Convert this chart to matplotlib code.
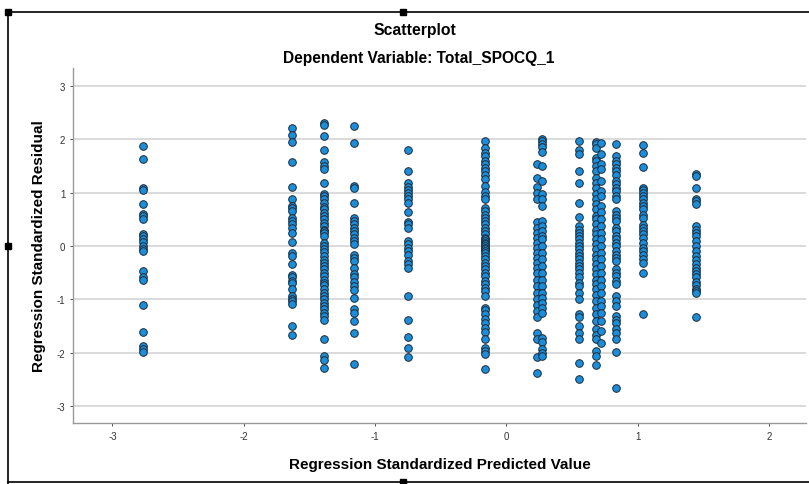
import matplotlib
matplotlib.use("Agg")
import matplotlib.pyplot as plt
from matplotlib.lines import Line2D
from matplotlib.patches import Rectangle

plt.rcParams['font.family'] = ['Liberation Sans', 'DejaVu Sans']

# predicted value (x) of each vertical stripe and the residuals
col_x = [-2.77, -1.63, -1.39, -1.16, -0.75, -0.16, 0.23, 0.27, 0.55, 0.68, 0.72, 0.83, 1.04, 1.44]

col_res = [
    [1.88, 1.63, 1.08, 1.06, 0.79, 0.61, 0.56, 0.51, 0.23, 0.19, 0.13, 0.08, 0.0, -0.05, -0.1,
     -0.47, -0.59, -0.64, -1.1, -1.61, -1.88, -1.94, -1.99],
    [2.22, 2.08, 1.96, 1.58, 1.10, 0.89, 0.76, 0.72, 0.66, 0.53, 0.47, 0.41, 0.34, 0.25, 0.08,
     -0.14, -0.18, -0.34, -0.55, -0.59, -0.66, -0.70, -0.80, -0.94, -0.99, -1.03, -1.08, -1.50, -1.67],
    [2.30, 2.28, 2.06, 1.81, 1.58, 1.50, 1.45, 1.18, 0.98, 0.94, 0.88, 0.81, 0.74, 0.69, 0.62,
     0.56, 0.51, 0.44, 0.37, 0.31, 0.28, 0.25, 0.19, 0.06, 0.0, -0.06, -0.12, -0.19, -0.26, -0.31,
     -0.38, -0.43, -0.5, -0.57, -0.63, -0.69, -0.74, -0.81, -0.88, -0.94, -1.0, -1.06, -1.12,
     -1.19, -1.25, -1.31, -1.38, -1.75, -2.06, -2.13, -2.28],
    [2.26, 1.94, 1.13, 1.09, 0.81, 0.53, 0.47, 0.41, 0.34, 0.28, 0.22, 0.16, 0.09, 0.04, -0.16,
     -0.22, -0.28, -0.41, -0.53, -0.59, -0.68, -0.75, -0.83, -0.98, -1.19, -1.25, -1.41, -1.64, -2.22],
    [1.80, 1.41, 1.18, 1.11, 1.05, 0.99, 0.94, 0.88, 0.80, 0.63, 0.45, 0.41, 0.34, 0.09, 0.03,
     -0.03, -0.09, -0.16, -0.28, -0.34, -0.41, -0.93, -1.39, -1.71, -1.91, -2.08],
    [1.97, 1.84, 1.75, 1.69, 1.59, 1.53, 1.47, 1.41, 1.34, 1.25, 1.13, 1.01, 0.94, 0.88, 0.72,
     0.66, 0.59, 0.53, 0.47, 0.41, 0.34, 0.28, 0.22, 0.16, 0.13, 0.09, 0.06, 0.03, 0.0, -0.03,
     -0.06, -0.09, -0.13, -0.19, -0.25, -0.31, -0.38, -0.44, -0.5, -0.56, -0.66, -0.72, -0.78,
     -0.84, -0.93, -1.17, -1.2, -1.28, -1.36, -1.44, -1.53, -1.61, -1.75, -1.91, -1.97, -2.03, -2.31],
    [1.53, 1.28, 1.11, 1.0, 0.88, 0.45, 0.34, 0.25, 0.16, 0.06, -0.03, -0.13, -0.22, -0.31, -0.41,
     -0.5, -0.63, -0.75, -0.88, -1.0, -1.11, -1.22, -1.34, -1.63, -1.74, -2.09, -2.39],
    [2.01, 1.97, 1.92, 1.86, 1.77, 1.51, 1.22, 0.97, 0.88, 0.76, 0.47, 0.38, 0.28, 0.19, 0.13,
     0.0, -0.13, -0.25, -0.38, -0.5, -0.63, -0.75, -0.88, -0.97, -1.06, -1.16, -1.25, -1.72, -1.8,
     -1.94, -2.0, -2.06],
    [1.97, 1.81, 1.73, 1.41, 1.18, 0.81, 0.54, 0.38, 0.31, 0.25, 0.19, 0.13, 0.06, 0.0, -0.06,
     -0.13, -0.19, -0.25, -0.31, -0.38, -0.44, -0.5, -0.59, -0.69, -0.75, -0.88, -1.0, -1.28,
     -1.34, -1.5, -1.63, -1.74, -2.19, -2.5],
    [1.95, 1.91, 1.83, 1.66, 1.59, 1.5, 1.41, 1.27, 1.19, 1.08, 0.97, 0.88, 0.78, 0.69, 0.56, 0.5,
     0.41, 0.31, 0.22, 0.13, 0.03, -0.06, -0.16, -0.25, -0.34, -0.44, -0.53, -0.63, -0.72, -0.81,
     -0.91, -1.03, -1.16, -1.28, -1.41, -1.56, -1.66, -1.75, -1.97, -2.06, -2.24],
    [1.94, 1.72, 1.53, 1.44, 1.22, 1.03, 0.94, 0.75, 0.63, 0.5, 0.38, 0.25, 0.13, 0.0, -0.13,
     -0.25, -0.38, -0.5, -0.63, -0.75, -0.88, -1.03, -1.13, -1.25, -1.41, -1.59, -1.81],
    [1.92, 1.68, 1.59, 1.53, 1.47, 1.41, 1.34, 1.22, 1.16, 1.09, 1.03, 0.94, 0.88, 0.66, 0.59,
     0.53, 0.47, 0.34, 0.28, 0.19, 0.13, 0.06, 0.0, -0.09, -0.16, -0.22, -0.28, -0.44, -0.5,
     -0.56, -0.66, -0.72, -0.94, -1.03, -1.13, -1.31, -1.38, -1.44, -1.56, -1.63, -1.75, -1.98, -2.66],
    [1.89, 1.74, 1.49, 1.09, 1.05, 1.0, 0.94, 0.88, 0.81, 0.75, 0.69, 0.59, 0.53, 0.39, 0.34,
     0.28, 0.22, 0.16, 0.06, -0.03, -0.09, -0.16, -0.24, -0.31, -0.5, -1.28],
    [1.36, 1.31, 1.08, 0.89, 0.84, 0.78, 0.38, 0.31, 0.25, 0.18, 0.09, 0.01, -0.09, -0.18, -0.26,
     -0.34, -0.41, -0.47, -0.53, -0.59, -0.68, -0.74, -0.81, -0.84, -0.89, -1.34],
]

x_ticks = [-3, -2, -1, 0, 1, 2]
y_ticks = [-3, -2, -1, 0, 1, 2, 3]

pred = []
resid = []
for cx, ys in zip(col_x, col_res):
    pred += [cx] * len(ys)
    resid += ys

fig = plt.figure(figsize=(8.09, 4.85), dpi=100)
ax = fig.add_axes([0.0902, 0.1258, 0.9061, 0.7319])

ax.scatter(pred, resid, s=30, c='#1a8ddb', edgecolors='#1c2a36', linewidths=0.7, zorder=3)

ax.set_xlim(-3.30, 2.28)
ax.set_ylim(-3.32, 3.34)
ax.set_xticks(x_ticks, [str(t) for t in x_ticks])
ax.set_yticks(y_ticks, [str(t) for t in y_ticks])
ax.tick_params(labelsize=7, colors='#333333', length=2, width=0.6)
ax.grid(axis='y', color='#d4d4d4', linewidth=1.2, zorder=0)
ax.set_axisbelow(True)
for s in ['top', 'right']:
    ax.spines[s].set_visible(False)
for s in ['left', 'bottom']:
    ax.spines[s].set_color('#9a9a9a')
    ax.spines[s].set_linewidth(1.0)

ax.set_xlabel('Regression Standardized Predicted Value', fontsize=11, fontweight='bold', labelpad=12)
ax.set_ylabel('Regression Standardized Residual', fontsize=11, fontweight='bold', labelpad=8)

fig.text(0.513, 1 - 30 / 485, 'Scatterplot', ha='center', va='center', fontsize=11.3, fontweight='bold')
fig.text(0.518, 1 - 58 / 485, 'Dependent Variable: Total_SPOCQ_1', ha='center', va='center',
         fontsize=11.2, fontweight='bold')

# outer frame of the pasted picture with its handles
W, H = 809, 485
frame = [((8, 13), (809, 13)), ((8, 13), (8, 485)), ((8, 483), (809, 483))]
for (x0, y0), (x1, y1) in frame:
    fig.add_artist(Line2D([x0 / W, x1 / W], [1 - y0 / H, 1 - y1 / H], color='black', lw=1.2))
for hx, hy in [(8, 13), (403, 13), (8, 247), (403, 483)]:
    fig.add_artist(Rectangle((hx / W - 0.0035, 1 - hy / H - 0.006), 0.007, 0.012, color='black'))

fig.savefig('out.png', dpi=100)
